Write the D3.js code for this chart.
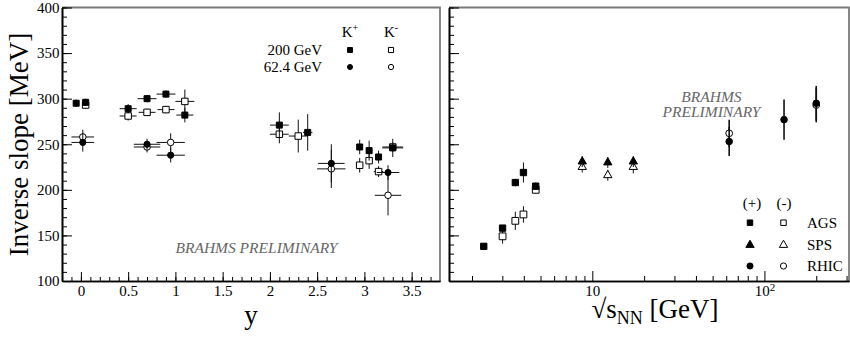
<!DOCTYPE html>
<html lang="en">
<head>
    <meta charset="UTF-8">
    <script src="https://cdn.jsdelivr.net/npm/d3@7"></script>
    <title>Inverse slope of kaons</title>
    <style>
        body { margin: 0; background: #fff; }
        svg text { font-family: "Liberation Serif", "Times New Roman", serif; }
    </style>
</head>
<body>
    <div id="graph-div"></div>
    <script>
        // left panel: inverse slope vs rapidity
        const y200Kp = [-0.05, 0.05, 0.5, 0.7, 0.9, 1.1, 2.1, 2.4, 2.95, 3.05, 3.15, 3.3];
        const T200Kp = [295, 296, 289, 300, 305, 282, 271, 263, 247, 243, 236, 246];
        const eT200Kp = [4, 4, 5, 4, 4, 8, 14, 20, 8, 11, 7, 10];
        const ey200Kp = [0.03, 0.03, 0.09, 0.1, 0.1, 0.09, 0.1, 0.05, 0.03, 0.03, 0.03, 0.11];

        const y200Km = [0.05, 0.5, 0.7, 0.9, 1.1, 2.1, 2.3, 2.95, 3.05, 3.15, 3.3];
        const T200Km = [293, 281, 285, 288, 297, 261, 259, 227, 232, 220, 247];
        const eT200Km = [4, 5, 4, 4, 13, 10, 18, 8, 9, 6, 5];
        const ey200Km = [0.03, 0.09, 0.09, 0.09, 0.1, 0.1, 0.1, 0.03, 0.03, 0.05, 0.11];

        const y62Kp = [0.02, 0.7, 0.95, 2.65, 3.25];
        const T62Kp = [252, 250, 238, 229, 219];
        const eT62Kp = [10, 6, 8, 21, 8];
        const ey62Kp = [0.12, 0.14, 0.15, 0.14, 0.12];

        const y62Km = [0.02, 0.7, 0.95, 2.65, 3.25];
        const T62Km = [258, 247, 252, 223, 194];
        const eT62Km = [8, 6, 10, 21, 22];
        const ey62Km = [0.12, 0.14, 0.15, 0.15, 0.14];

        // right panel: inverse slope vs sqrt(s_NN)
        const agsPlusS = [2.34, 3.01, 3.57, 3.98, 4.69];
        const agsPlusT = [138, 158, 208, 219, 204];
        const agsPlusE = [3, 3, 4, 11, 4];
        const agsMinusS = [3.01, 3.57, 3.98, 4.69];
        const agsMinusT = [149, 166, 173, 200];
        const agsMinusE = [8, 10, 9, 4];

        const spsS = [8.74, 12.3, 17.3];
        const spsPlusT = [231, 230, 231];
        const spsPlusE = [6, 6, 6];
        const spsMinusT = [225, 216, 225];
        const spsMinusE = [6, 6, 7];

        const rhicPlusS = [62.4, 130, 200];
        const rhicPlusT = [253, 277, 295];
        const rhicPlusE = [16, 22, 19];
        const rhicMinusS = [62.4, 200];
        const rhicMinusT = [262, 293];
        const rhicMinusE = [15, 19];

        // ticks
        const yTicks = [100, 150, 200, 250, 300, 350, 400];
        const yMinor = d3.range(10, 41).map(i => i * 10);
        const xTicksL = [0, 0.5, 1, 1.5, 2, 2.5, 3, 3.5];
        const xMinorL = d3.range(-1, 38).map(i => i / 10);
        const xTicksR = [10, 100];
        const xTickLabelsR = [["10", ""], ["10", "2"]];
        const xMinorR = [2, 3, 4, 5, 6, 7, 8, 9, 20, 30, 40, 50, 60, 70, 80, 90, 200, 300];

        const w = 850;
        const h = 337;
        const plotTop = 7.5;
        const plotBottom = 281;

        //scales
        const yScale = d3.scaleLinear().domain([100, 400]).range([plotBottom, plotTop]);
        const xL = d3.scaleLinear().domain([-0.2, 3.8]).range([62, 440]);
        const xR = d3.scaleLog().domain([1.47, 310]).range([449, 849]);

        const svg = d3.select("#graph-div")
                      .append("svg")
                      .attr("width", w)
                      .attr("height", h);

        const fontSize = 15;

        // frame lines (top / right, grey)
        [xL, xR].forEach(sc => {
            const r = sc.range();
            svg.append("path")
               .attr("d", `M${r[0]},${plotTop}H${r[1]}V${plotBottom}`)
               .attr("fill", "none")
               .attr("stroke", "#7a7a7a")
               .attr("stroke-width", 1.8);
        });

        function styleAxis(g) {
            g.attr("font-size", fontSize).attr("fill", "#000");
            g.selectAll("path.domain").attr("stroke", "#000").attr("stroke-width", 1.6);
            g.selectAll(".tick line").attr("stroke", "#000").attr("stroke-width", 1);
            g.selectAll("text").attr("fill", "#000");
        }

        //axes
        function yAxes(x0, labels) {
            svg.append("g")
               .attr("transform", `translate(${x0},0)`)
               .call(d3.axisLeft(yScale).tickValues(yMinor).tickSize(-5).tickSizeOuter(0).tickFormat(""))
               .call(styleAxis);
            svg.append("g")
               .attr("transform", `translate(${x0},0)`)
               .call(d3.axisLeft(yScale).tickValues(yTicks).tickSize(-10).tickSizeOuter(0)
                       .tickPadding(2.5).tickFormat(labels ? d3.format("d") : ""))
               .call(styleAxis);
        }
        yAxes(62, true);
        yAxes(449, false);

        svg.append("g")
           .attr("transform", `translate(0,${plotBottom})`)
           .call(d3.axisBottom(xL).tickValues(xMinorL).tickSize(-4).tickSizeOuter(0).tickFormat(""))
           .call(styleAxis);
        svg.append("g")
           .attr("transform", `translate(0,${plotBottom})`)
           .call(d3.axisBottom(xL).tickValues(xTicksL).tickSize(-9).tickSizeOuter(0).tickPadding(4)
                   .tickFormat(d3.format("~g")))
           .call(styleAxis);

        svg.append("g")
           .attr("transform", `translate(0,${plotBottom})`)
           .call(d3.axisBottom(xR).tickValues(xMinorR).tickSize(-5).tickSizeOuter(0).tickFormat(""))
           .call(styleAxis);
        const gxR = svg.append("g")
           .attr("transform", `translate(0,${plotBottom})`)
           .call(d3.axisBottom(xR).tickValues(xTicksR).tickSize(-10).tickSizeOuter(0).tickPadding(4)
                   .tickFormat(""))
           .call(styleAxis);
        gxR.selectAll(".tick text").each(function (d, i) {
            const t = d3.select(this);
            t.append("tspan").text(xTickLabelsR[i][0]);
            if (xTickLabelsR[i][1]) {
                t.append("tspan").attr("font-size", 11).attr("dy", "-0.45em").text(xTickLabelsR[i][1]);
            }
        });

        // axis titles
        svg.append("text")
           .attr("transform", "translate(28,144.5) rotate(-90)")
           .attr("text-anchor", "middle")
           .attr("font-size", 27)
           .text("Inverse slope [MeV]");

        svg.append("text")
           .attr("x", 251)
           .attr("y", 324)
           .attr("text-anchor", "middle")
           .attr("font-size", 27)
           .text("y");

        const xt = svg.append("text")
           .attr("x", 655)
           .attr("y", 318)
           .attr("text-anchor", "middle")
           .attr("font-size", 27);
        xt.append("tspan").text("\u221As");
        xt.append("tspan").attr("font-size", 18).attr("dy", 6).text("NN");
        xt.append("tspan").attr("dy", -6).text(" [GeV]");

        // watermarks
        svg.append("text")
           .attr("x", 256.5).attr("y", 253)
           .attr("text-anchor", "middle")
           .attr("font-size", 15.5)
           .attr("font-style", "italic")
           .attr("fill", "#666")
           .text("BRAHMS PRELIMINARY");
        ["BRAHMS", "PRELIMINARY"].forEach((s, i) => {
            svg.append("text")
               .attr("x", 711.5).attr("y", 102 + i * 15)
               .attr("text-anchor", "middle")
               .attr("font-size", 15.5)
               .attr("font-style", "italic")
               .attr("fill", "#666")
               .text(s);
        });

        //points
        function drawSeries(xs, ts, eTs, eXs, xScale, type, filled, size, ebWidth) {
            const g = svg.append("g");
            const data = xs.map((x, i) => ({ x: x, t: ts[i], e: eTs[i], ex: eXs ? eXs[i] : 0 }));
            g.selectAll("line.v").data(data).enter().append("line")
             .attr("x1", d => xScale(d.x)).attr("x2", d => xScale(d.x))
             .attr("y1", d => yScale(d.t - d.e)).attr("y2", d => yScale(d.t + d.e))
             .attr("stroke", "#111").attr("stroke-width", ebWidth);
            g.selectAll("line.h").data(data.filter(d => d.ex > 0)).enter().append("line")
             .attr("x1", d => xScale(d.x - d.ex)).attr("x2", d => xScale(d.x + d.ex))
             .attr("y1", d => yScale(d.t)).attr("y2", d => yScale(d.t))
             .attr("stroke", "#111").attr("stroke-width", ebWidth);
            g.selectAll("path.m").data(data).enter().append("path")
             .attr("transform", d => `translate(${xScale(d.x)},${yScale(d.t)})`)
             .attr("d", d3.symbol().type(type).size(size))
             .attr("fill", filled ? "#000" : "#fff")
             .attr("stroke", "#000")
             .attr("stroke-width", 1);
        }

        drawSeries(y200Km, T200Km, eT200Km, ey200Km, xL, d3.symbolSquare, false, 42, 1);
        drawSeries(y200Kp, T200Kp, eT200Kp, ey200Kp, xL, d3.symbolSquare, true, 36, 1);
        drawSeries(y62Km, T62Km, eT62Km, ey62Km, xL, d3.symbolCircle, false, 34, 1);
        drawSeries(y62Kp, T62Kp, eT62Kp, ey62Kp, xL, d3.symbolCircle, true, 30, 1);

        drawSeries(agsMinusS, agsMinusT, agsMinusE, null, xR, d3.symbolSquare, false, 46, 1);
        drawSeries(agsPlusS, agsPlusT, agsPlusE, null, xR, d3.symbolSquare, true, 40, 1);
        drawSeries(spsS, spsMinusT, spsMinusE, null, xR, d3.symbolTriangle, false, 30, 1);
        drawSeries(spsS, spsPlusT, spsPlusE, null, xR, d3.symbolTriangle, true, 30, 1);
        drawSeries(rhicMinusS, rhicMinusT, rhicMinusE, null, xR, d3.symbolCircle, false, 36, 1.6);
        drawSeries(rhicPlusS, rhicPlusT, rhicPlusE, null, xR, d3.symbolCircle, true, 34, 1.6);

        // legends
        function legendMark(x, y, type, filled, size) {
            svg.append("path")
               .attr("transform", `translate(${x},${y})`)
               .attr("d", d3.symbol().type(type).size(size))
               .attr("fill", filled ? "#000" : "#fff")
               .attr("stroke", "#000")
               .attr("stroke-width", 1);
        }
        function legendText(x, y, anchor, parts) {
            const t = svg.append("text")
               .attr("x", x).attr("y", y)
               .attr("text-anchor", anchor)
               .attr("font-size", fontSize);
            t.append("tspan").text(parts[0]);
            if (parts[1]) t.append("tspan").attr("font-size", 10).attr("dy", "-0.6em").text(parts[1]);
        }

        legendText(350, 37, "middle", ["K", "+"]);
        legendText(391, 37, "middle", ["K", "-"]);
        legendText(322, 55, "end", ["200 GeV"]);
        legendText(322, 71.5, "end", ["62.4 GeV"]);
        legendMark(350, 50, d3.symbolSquare, true, 24);
        legendMark(391, 50, d3.symbolSquare, false, 26);
        legendMark(350, 67, d3.symbolCircle, true, 20);
        legendMark(391, 67, d3.symbolCircle, false, 22);

        legendText(752, 208, "middle", ["(+)"]);
        legendText(784, 208, "middle", ["(-)"]);
        const rows = [["AGS", d3.symbolSquare, 222.7], ["SPS", d3.symbolTriangle, 245], ["RHIC", d3.symbolCircle, 266]];
        rows.forEach(r => {
            legendMark(750, r[2], r[1], true, 30);
            legendMark(783.5, r[2], r[1], false, 30);
            legendText(807, r[2] + 5, "start", [r[0]]);
        });
    </script>
</body>
</html>
